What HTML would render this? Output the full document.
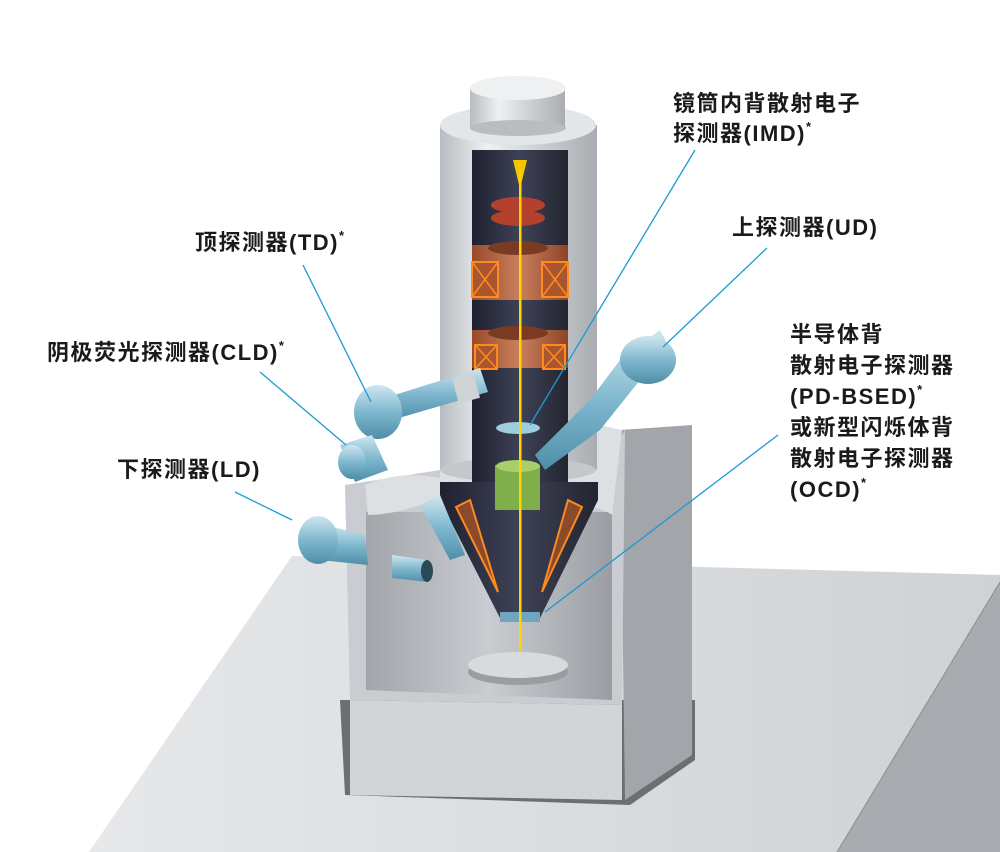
<!DOCTYPE html>
<html><head><meta charset="utf-8"><style>
html,body{margin:0;padding:0;background:#fff}
svg{display:block}
.t{font-family:"Liberation Sans","Noto Sans CJK SC",sans-serif;font-weight:bold;font-size:22px;fill:#1a1a1a;letter-spacing:1.5px}
.s{font-size:13px}
</style></head><body>
<svg width="1000" height="852" viewBox="0 0 1000 852" xmlns="http://www.w3.org/2000/svg">
<defs>
<linearGradient id="top" x1="0" y1="0" x2="1" y2="0"><stop offset="0" stop-color="#e6e8ea"/><stop offset="1" stop-color="#cfd2d5"/></linearGradient>
<linearGradient id="col" x1="0" y1="0" x2="1" y2="0"><stop offset="0" stop-color="#b8bcc0"/><stop offset=".3" stop-color="#eef0f2"/><stop offset="1" stop-color="#a9adb1"/></linearGradient>
<linearGradient id="dark" x1="0" y1="0" x2="1" y2="0"><stop offset="0" stop-color="#1f2130"/><stop offset=".5" stop-color="#3e4256"/><stop offset="1" stop-color="#23252f"/></linearGradient>
<linearGradient id="blue" x1="0" y1="0" x2="0" y2="1"><stop offset="0" stop-color="#cfe6ef"/><stop offset=".5" stop-color="#7fb8cf"/><stop offset="1" stop-color="#4f8ea8"/></linearGradient>
<linearGradient id="inner" x1="0" y1="0" x2="1" y2="0"><stop offset="0" stop-color="#a2a6aa"/><stop offset=".5" stop-color="#c9ccd0"/><stop offset="1" stop-color="#9a9ea2"/></linearGradient>
<linearGradient id="brown" x1="0" y1="0" x2="1" y2="0"><stop offset="0" stop-color="#9a4a2c"/><stop offset=".5" stop-color="#c9805c"/><stop offset="1" stop-color="#8e4326"/></linearGradient>
</defs>
<!-- base table -->
<polygon points="89,852 292,556 1000,575 1000,582 837,852" fill="url(#top)"/>
<polygon points="837,852 1000,582 1000,852" fill="#a8abaf"/>
<line x1="837" y1="852" x2="1000" y2="582" stroke="#8a8d90" stroke-width="1"/>
<!-- recess -->
<polygon points="340,700 345,795 630,805 695,760 695,700" fill="#6b6e72"/>
<!-- stand right face -->
<polygon points="620,430 692,425 692,755 625,800" fill="#a2a6aa"/>
<!-- stand front lower -->
<polygon points="350,700 622,705 622,800 350,795" fill="#d2d5d8"/>
<!-- stand front frame -->
<polygon points="345,485 440,470 600,470 625,430 622,705 350,700" fill="#c9ccd0"/>
<!-- chamber inner -->
<path d="M366,512 L612,512 L612,700 L366,690 Z" fill="url(#inner)"/>
<!-- top of stand bevel -->
<path d="M365,485 Q400,470 440,478 L440,430 Q500,420 600,425 L622,430 L612,515 Q600,505 560,505 L420,505 Q390,515 368,515 Z" fill="#dde0e3"/>
<!-- column outer -->
<rect x="440" y="125" width="157" height="345" fill="url(#col)"/>
<ellipse cx="518" cy="125" rx="78" ry="20" fill="#e3e6e8"/>
<ellipse cx="518" cy="470" rx="78" ry="12" fill="#c4c7cb"/>
<!-- top cap -->
<rect x="470" y="88" width="95" height="40" fill="url(#col)"/>
<ellipse cx="518" cy="88" rx="48" ry="12" fill="#eef0f2"/>
<ellipse cx="518" cy="128" rx="48" ry="8" fill="#b9bcc0"/>
<!-- inner dark cutaway -->
<rect x="472" y="150" width="96" height="335" fill="url(#dark)"/>
<!-- cone -->
<polygon points="440,482 598,482 598,500 540,618 500,618 440,500" fill="url(#dark)"/>
<polygon points="500,612 540,612 540,622 500,622" fill="#6fa6bd"/>
<!-- orange triangles -->
<polygon points="456,507 470,500 498,592" fill="#8a4a2c" stroke="#ff8a1e" stroke-width="2"/>
<polygon points="582,507 568,500 542,592" fill="#8a4a2c" stroke="#ff8a1e" stroke-width="2"/>
<!-- red coils -->
<ellipse cx="518" cy="205" rx="27" ry="8" fill="#b4412e"/>
<ellipse cx="518" cy="218" rx="27" ry="8" fill="#b4412e"/>
<!-- brown lenses -->
<rect x="472" y="245" width="96" height="55" fill="url(#brown)"/>
<ellipse cx="518" cy="248" rx="30" ry="7" fill="#7a3b22"/>
<rect x="472" y="330" width="96" height="38" fill="url(#brown)"/>
<ellipse cx="518" cy="333" rx="30" ry="7" fill="#7a3b22"/>
<rect x="472" y="262" width="26" height="35" fill="#a85530" stroke="#ff8a1e" stroke-width="2"/>
<rect x="542" y="262" width="26" height="35" fill="#a85530" stroke="#ff8a1e" stroke-width="2"/>
<rect x="475" y="345" width="22" height="24" fill="#a85530" stroke="#ff8a1e" stroke-width="2"/>
<rect x="543" y="345" width="22" height="24" fill="#a85530" stroke="#ff8a1e" stroke-width="2"/>
<path d="M472,262 L498,297 M498,262 L472,297 M542,262 L568,297 M568,262 L542,297 M475,345 L497,369 M497,345 L475,369 M543,345 L565,369 M565,345 L543,369" stroke="#ff8a1e" stroke-width="1.5"/>
<!-- green -->
<rect x="495" y="465" width="45" height="45" fill="#7fae4a"/>
<ellipse cx="518" cy="466" rx="22" ry="6" fill="#a8d06a"/>
<!-- IMD ring -->
<ellipse cx="518" cy="428" rx="22" ry="6" fill="#9fcde0"/>
<!-- beam -->
<polygon points="513,160 527,160 521,185 519,185" fill="#f5c400"/>
<rect x="519" y="170" width="2.5" height="488" fill="#ffd400"/>
<!-- sample -->
<ellipse cx="518" cy="672" rx="50" ry="13" fill="#9a9ea2"/>
<ellipse cx="518" cy="665" rx="50" ry="13" fill="#d8dadd"/>
<!-- detectors -->
<g fill="url(#blue)">
<polygon points="385,398 480,368 488,392 392,420"/>
<rect x="455" y="375" width="22" height="26" fill="#d0d3d6" transform="rotate(-15 466 388)"/>
<ellipse cx="378" cy="412" rx="24" ry="27"/>
<polygon points="620,360 660,330 668,345 600,430 545,470 535,455 590,400"/>
<ellipse cx="648" cy="360" rx="28" ry="24"/>
<polygon points="340,445 372,435 388,470 355,482"/>
<ellipse cx="352" cy="462" rx="14" ry="17"/>
<polygon points="325,525 365,535 368,565 320,560"/>
<ellipse cx="318" cy="540" rx="20" ry="24"/>
<polygon points="392,555 428,560 428,582 392,578"/>
<ellipse cx="427" cy="571" rx="6" ry="11" fill="#2b4a58"/>
<polygon points="420,505 440,495 465,555 450,560"/>
</g>
<!-- leaders -->
<g stroke="#1b9ad6" stroke-width="1.3" fill="none">
<line x1="695" y1="150" x2="530" y2="425"/>
<line x1="767" y1="248" x2="663" y2="347"/>
<line x1="303" y1="265" x2="371" y2="402"/>
<line x1="260" y1="372" x2="346" y2="445"/>
<line x1="235" y1="492" x2="292" y2="520"/>
<line x1="778" y1="435" x2="545" y2="612"/>
</g>
<!-- labels -->
<text class="t" x="673" y="111">镜筒内背散射电子</text>
<text class="t" x="673" y="141">探测器(IMD)<tspan class="s" dy="-10">*</tspan></text>
<text class="t" x="732" y="235">上探测器(UD)</text>
<text class="t" x="195" y="250">顶探测器(TD)<tspan class="s" dy="-10">*</tspan></text>
<text class="t" x="47" y="360">阴极荧光探测器(CLD)<tspan class="s" dy="-10">*</tspan></text>
<text class="t" x="117" y="477">下探测器(LD)</text>
<text class="t" x="790" y="342">半导体背</text>
<text class="t" x="790" y="373">散射电子探测器</text>
<text class="t" x="790" y="404">(PD-BSED)<tspan class="s" dy="-10">*</tspan></text>
<text class="t" x="790" y="435">或新型闪烁体背</text>
<text class="t" x="790" y="466">散射电子探测器</text>
<text class="t" x="790" y="497">(OCD)<tspan class="s" dy="-10">*</tspan></text>
</svg>
</body></html>
